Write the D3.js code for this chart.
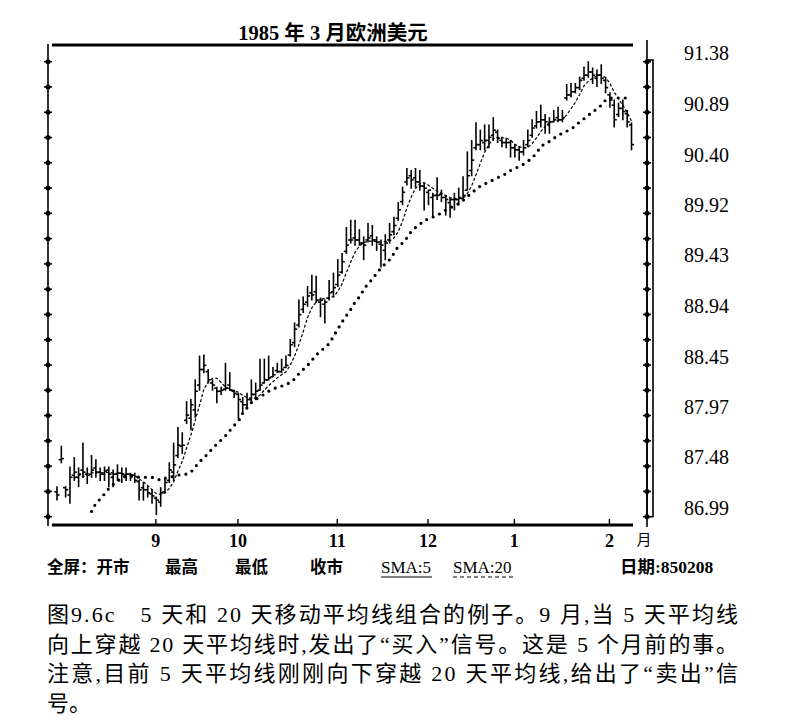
<!DOCTYPE html>
<html>
<head>
<meta charset="utf-8">
<script src="https://cdn.jsdelivr.net/npm/d3@7"></script>
<style>
  body { margin: 0; background: #fff; }
  svg { display: block; background: #fff; }
</style>
</head>
<body>
<svg width="785" height="726"></svg>
<script>
// daily bars, Aug 1984 - 8 Feb 1985
const opens = [
  87.23, 87.54, 87.27, 87.20, 87.39, 87.37, 87.44, 87.40, 87.40, 87.46,
  87.42, 87.40, 87.44, 87.37, 87.40, 87.41, 87.39, 87.40, 87.39, 87.33,
  87.27, 87.25, 87.21, 87.17, 87.13, 87.23, 87.34, 87.42, 87.58, 87.67,
  87.92, 87.94, 88.02, 88.26, 88.41, 88.39, 88.28, 88.23, 88.20, 88.22,
  88.26, 88.20, 88.17, 88.10, 88.07, 88.12, 88.17, 88.21, 88.28, 88.31,
  88.34, 88.40, 88.39, 88.43, 88.55, 88.67, 88.84, 88.99, 89.06, 89.15,
  89.16, 89.06, 89.04, 89.10, 89.16, 89.23, 89.35, 89.55, 89.66, 89.68,
  89.66, 89.63, 89.66, 89.70, 89.66, 89.62, 89.56, 89.66, 89.74, 89.87,
  90.03, 90.22, 90.28, 90.26, 90.22, 90.18, 90.12, 90.07, 90.09, 90.10,
  90.07, 90.02, 90.05, 90.05, 90.06, 90.14, 90.33, 90.55, 90.58, 90.60,
  90.62, 90.67, 90.70, 90.62, 90.60, 90.60, 90.55, 90.53, 90.51, 90.58,
  90.67, 90.76, 90.80, 90.82, 90.77, 90.80, 90.84, 90.82, 91.03, 91.06,
  91.09, 91.13, 91.22, 91.25, 91.28, 91.22, 91.25, 91.20, 91.06, 90.96,
  90.87, 90.93, 90.88, 90.77
];
const highs = [
  87.28, 87.67, 87.28, 87.47, 87.56, 87.46, 87.70, 87.46, 87.58, 87.54,
  87.46, 87.47, 87.47, 87.44, 87.49, 87.46, 87.46, 87.41, 87.41, 87.34,
  87.32, 87.28, 87.25, 87.18, 87.27, 87.37, 87.51, 87.70, 87.85, 87.80,
  88.10, 88.12, 88.31, 88.54, 88.55, 88.41, 88.31, 88.24, 88.24, 88.47,
  88.38, 88.21, 88.18, 88.14, 88.18, 88.31, 88.28, 88.51, 88.51, 88.54,
  88.43, 88.47, 88.51, 88.54, 88.70, 88.86, 89.08, 89.11, 89.21, 89.32,
  89.31, 89.10, 89.08, 89.27, 89.34, 89.47, 89.53, 89.78, 89.85, 89.85,
  89.76, 89.69, 89.82, 89.80, 89.69, 89.66, 89.71, 89.82, 89.88, 90.02,
  90.17, 90.35, 90.33, 90.35, 90.33, 90.21, 90.14, 90.11, 90.26, 90.14,
  90.09, 90.06, 90.11, 90.16, 90.27, 90.51, 90.62, 90.79, 90.72, 90.77,
  90.77, 90.84, 90.72, 90.65, 90.64, 90.62, 90.58, 90.56, 90.62, 90.72,
  90.82, 90.90, 90.96, 90.87, 90.84, 90.91, 90.94, 90.91, 91.16, 91.17,
  91.17, 91.23, 91.33, 91.38, 91.32, 91.30, 91.35, 91.23, 91.08, 91.01,
  90.98, 91.01, 90.91, 90.79
];
const lows = [
  87.15, 87.51, 87.18, 87.12, 87.34, 87.28, 87.37, 87.31, 87.37, 87.37,
  87.34, 87.34, 87.28, 87.28, 87.34, 87.32, 87.34, 87.34, 87.32, 87.15,
  87.15, 87.18, 87.12, 87.01, 87.09, 87.22, 87.32, 87.34, 87.56, 87.60,
  87.89, 87.83, 87.95, 88.21, 88.38, 88.28, 88.21, 88.09, 88.17, 88.21,
  88.21, 88.14, 87.94, 88.00, 88.05, 88.09, 88.12, 88.21, 88.28, 88.31,
  88.34, 88.38, 88.38, 88.43, 88.54, 88.63, 88.82, 88.96, 89.02, 89.08,
  89.06, 88.92, 88.86, 89.08, 89.11, 89.21, 89.34, 89.53, 89.63, 89.61,
  89.61, 89.47, 89.64, 89.61, 89.56, 89.40, 89.47, 89.63, 89.71, 89.85,
  90.00, 90.19, 90.16, 90.17, 90.14, 89.95, 90.00, 89.88, 90.05, 90.03,
  89.90, 89.88, 89.95, 90.00, 90.06, 90.14, 90.28, 90.53, 90.53, 90.53,
  90.55, 90.62, 90.60, 90.56, 90.55, 90.46, 90.46, 90.43, 90.48, 90.56,
  90.65, 90.74, 90.75, 90.69, 90.69, 90.80, 90.80, 90.80, 91.01, 91.04,
  91.08, 91.11, 91.20, 91.23, 91.17, 91.14, 91.17, 91.08, 90.94, 90.75,
  90.85, 90.82, 90.75, 90.53
];
const closes = [
  87.20, 87.55, 87.25, 87.37, 87.42, 87.40, 87.42, 87.39, 87.44, 87.42,
  87.40, 87.43, 87.40, 87.40, 87.41, 87.40, 87.40, 87.39, 87.34, 87.25,
  87.25, 87.22, 87.19, 87.15, 87.22, 87.32, 87.44, 87.49, 87.68, 87.68,
  87.97, 88.07, 88.20, 88.41, 88.45, 88.31, 88.26, 88.20, 88.21, 88.23,
  88.21, 88.18, 88.12, 88.07, 88.12, 88.17, 88.20, 88.26, 88.31, 88.33,
  88.36, 88.39, 88.41, 88.45, 88.65, 88.80, 88.94, 89.04, 89.12, 89.13,
  89.08, 89.08, 89.06, 89.15, 89.20, 89.32, 89.45, 89.61, 89.66, 89.66,
  89.63, 89.61, 89.68, 89.66, 89.64, 89.61, 89.63, 89.71, 89.80, 89.95,
  90.12, 90.26, 90.24, 90.22, 90.18, 90.16, 90.14, 90.09, 90.09, 90.07,
  90.05, 90.05, 90.05, 90.07, 90.09, 90.28, 90.43, 90.58, 90.62, 90.62,
  90.65, 90.72, 90.64, 90.60, 90.60, 90.55, 90.53, 90.51, 90.55, 90.62,
  90.74, 90.80, 90.82, 90.80, 90.80, 90.82, 90.82, 90.84, 91.06, 91.09,
  91.13, 91.20, 91.25, 91.28, 91.25, 91.25, 91.22, 91.13, 91.01, 90.82,
  90.93, 90.90, 90.80, 90.58
];

// 20-day average as printed (starts on day 8)
const sma20Start = 8;
const sma20 = [
  87.04, 87.12, 87.16, 87.21, 87.26, 87.30, 87.33, 87.37, 87.38, 87.38,
  87.38, 87.37, 87.37, 87.37, 87.37, 87.36, 87.34, 87.36, 87.37, 87.38,
  87.39, 87.40, 87.40, 87.42, 87.47, 87.52, 87.56, 87.60, 87.65, 87.69,
  87.73, 87.77, 87.82, 87.87, 87.91, 87.99, 88.04, 88.09, 88.12, 88.15,
  88.17, 88.20, 88.22, 88.24, 88.25, 88.27, 88.28, 88.32, 88.37, 88.41,
  88.45, 88.50, 88.55, 88.59, 88.62, 88.66, 88.73, 88.80, 88.87, 88.93,
  88.99, 89.06, 89.11, 89.18, 89.24, 89.28, 89.34, 89.39, 89.43, 89.47,
  89.53, 89.60, 89.63, 89.68, 89.74, 89.78, 89.81, 89.85, 89.86, 89.88,
  89.90, 89.92, 89.95, 89.97, 89.99, 90.01, 90.04, 90.08, 90.11, 90.15,
  90.18, 90.20, 90.22, 90.24, 90.26, 90.28, 90.30, 90.33, 90.35, 90.37,
  90.39, 90.42, 90.45, 90.50, 90.56, 90.59, 90.61, 90.64, 90.67, 90.69,
  90.71, 90.73, 90.76, 90.80, 90.83, 90.86, 90.90, 90.92, 90.96, 91.01,
  91.03, 91.03, 91.03, 91.03, 91.03, 91.03
];

const monthLabels = ['9', '10', '11', '12', '1', '2'];
const monthStarts = [23, 42, 65, 86, 106, 128];   // first trading day of each month

const priceLabels = ['86.99', '87.48', '87.97', '88.45', '88.94', '89.43', '89.92', '90.40', '90.89', '91.38'];

const legendItems = ['全屏：开市', '最高', '最低', '收市'];
const captionLines = [
  '图9.6c　5 天和 20 天移动平均线组合的例子。9 月,当 5 天平均线',
  '向上穿越 20 天平均线时,发出了“买入”信号。这是 5 个月前的事。',
  '注意,目前 5 天平均线刚刚向下穿越 20 天平均线,给出了“卖出”信',
  '号。'
];

const serif = '"Liberation Serif", "Noto Sans CJK SC", serif';

const svg = d3.select('svg');

const x = d3.scaleLinear()
    .domain([0, closes.length - 1])
    .range([57, 631.5]);

const y = d3.scaleLinear()
    .domain([+priceLabels[0], +priceLabels[priceLabels.length - 1]])
    .range([516.7, 61.7]);

// 5-day average of the closes
const sma5 = closes.map((c, i) => i < 4 ? null : d3.mean(closes.slice(i - 4, i + 1)));

// title
svg.append('text')
    .attr('x', 333)
    .attr('y', 40)
    .attr('text-anchor', 'middle')
    .attr('font-family', serif)
    .attr('font-weight', 'bold')
    .attr('font-size', 20.5)
    .text('1985 年 3 月欧洲美元');

// frame lines
svg.append('line')
    .attr('x1', 52).attr('x2', 633)
    .attr('y1', 45).attr('y2', 45)
    .attr('stroke', '#000').attr('stroke-width', 3);

svg.append('line')
    .attr('x1', 48).attr('x2', 48)
    .attr('y1', 44).attr('y2', 526)
    .attr('stroke', '#000').attr('stroke-width', 1.6);

svg.append('line')
    .attr('x1', 647).attr('x2', 647)
    .attr('y1', 40).attr('y2', 527)
    .attr('stroke', '#000').attr('stroke-width', 1.6);

svg.append('rect')
    .attr('x', 647).attr('y', 60)
    .attr('width', 6).attr('height', y.range()[0] - 60)
    .attr('fill', 'none')
    .attr('stroke', '#000').attr('stroke-width', 1.6);

// dotted ticks on both price axes (every half label step)
const tickVals = d3.range(19).map(k => y.domain()[0] + k * (y.domain()[1] - y.domain()[0]) / 18);

[48, 647].forEach(ax => {
  const tg = svg.append('g');
  tg.selectAll('line')
    .data(tickVals)
    .join('line')
      .attr('x1', ax - 4).attr('x2', ax + 4)
      .attr('y1', d => y(d)).attr('y2', d => y(d))
      .attr('stroke', '#000').attr('stroke-width', 1.5);
  tg.selectAll('circle')
    .data(tickVals)
    .join('circle')
      .attr('cx', ax)
      .attr('cy', d => y(d))
      .attr('r', 2.5)
      .attr('fill', '#000');
});

// right price labels
const yAxis = d3.axisRight(y)
    .tickValues(priceLabels.map(Number))
    .tickFormat((d, i) => priceLabels[i])
    .tickSize(0)
    .tickPadding(37);

const yg = svg.append('g')
    .attr('transform', 'translate(647,0)')
    .call(yAxis);
yg.select('.domain').remove();
yg.selectAll('text')
    .attr('dy', '-0.1em')
    .attr('font-family', serif)
    .attr('font-size', 20)
    .attr('fill', '#000');

// month axis
svg.append('line')
    .attr('x1', 52).attr('x2', 633)
    .attr('y1', 525).attr('y2', 525)
    .attr('stroke', '#000').attr('stroke-width', 3);

const xAxis = d3.axisBottom(x)
    .tickValues(monthStarts)
    .tickFormat((d, i) => monthLabels[i])
    .tickSize(-6)
    .tickSizeOuter(0)
    .tickPadding(9);

const xg = svg.append('g')
    .attr('transform', 'translate(-1,525)')
    .call(xAxis);
xg.select('.domain').remove();
xg.selectAll('line').attr('stroke', '#000').attr('stroke-width', 1.4);
xg.selectAll('text')
    .attr('font-family', serif)
    .attr('font-weight', 'bold')
    .attr('font-size', 18)
    .attr('fill', '#000');

svg.append('text')
    .attr('x', 644).attr('y', 545)
    .attr('text-anchor', 'middle')
    .attr('font-family', '"Noto Sans CJK SC", sans-serif')
    .attr('font-size', 15)
    .text('月');

// OHLC bars
const bars = svg.append('g')
    .attr('stroke', '#000')
    .attr('stroke-width', 1.6);

bars.selectAll('line.hl')
  .data(closes)
  .join('line')
    .attr('class', 'hl')
    .attr('x1', (d, i) => x(i)).attr('x2', (d, i) => x(i))
    .attr('y1', (d, i) => y(highs[i]) - 0.5)
    .attr('y2', (d, i) => y(lows[i]) + 0.5);

bars.selectAll('line.op')
  .data(opens)
  .join('line')
    .attr('class', 'op')
    .attr('x1', (d, i) => x(i) - 2.6).attr('x2', (d, i) => x(i))
    .attr('y1', d => y(d)).attr('y2', d => y(d));

bars.selectAll('line.cl')
  .data(closes)
  .join('line')
    .attr('class', 'cl')
    .attr('x1', (d, i) => x(i)).attr('x2', (d, i) => x(i) + 2.6)
    .attr('y1', d => y(d)).attr('y2', d => y(d));

// moving averages
const line = d3.line()
    .defined(d => d[1] != null)
    .x(d => x(d[0]))
    .y(d => y(d[1]));

svg.append('path')
    .datum(sma5.map((v, i) => [i, v]))
    .attr('d', line)
    .attr('fill', 'none')
    .attr('stroke', '#000')
    .attr('stroke-width', 1.2)
    .attr('stroke-dasharray', '3,2');

svg.append('path')
    .datum(sma20.map((v, i) => [i + sma20Start, v]))
    .attr('d', line)
    .attr('fill', 'none')
    .attr('stroke', '#000')
    .attr('stroke-width', 3.2)
    .attr('stroke-linecap', 'round')
    .attr('stroke-dasharray', '0,7');

// legend row
const legendX = [47, 165, 235, 310];
const lg = svg.append('g')
    .attr('font-family', '"Noto Sans CJK SC", sans-serif')
    .attr('font-weight', 'bold')
    .attr('font-size', 16.5);

lg.selectAll('text')
  .data(legendItems)
  .join('text')
    .attr('x', (d, i) => legendX[i])
    .attr('y', 573)
    .text(d => d);

svg.append('text')
    .attr('x', 381).attr('y', 573)
    .attr('font-family', serif)
    .attr('font-size', 17)
    .text('SMA:5');
svg.append('line')
    .attr('x1', 381).attr('x2', 432)
    .attr('y1', 577).attr('y2', 577)
    .attr('stroke', '#000').attr('stroke-width', 1);

svg.append('text')
    .attr('x', 453).attr('y', 573)
    .attr('font-family', serif)
    .attr('font-size', 17)
    .text('SMA:20');
svg.append('line')
    .attr('x1', 453).attr('x2', 515)
    .attr('y1', 577).attr('y2', 577)
    .attr('stroke', '#000').attr('stroke-width', 1)
    .attr('stroke-dasharray', '4,3');

svg.append('text')
    .attr('x', 620).attr('y', 573)
    .attr('font-family', serif)
    .attr('font-weight', 'bold')
    .attr('font-size', 17.5)
    .text('日期:850208');

// caption
const cap = svg.append('g')
    .attr('font-family', serif)
    .attr('font-size', 22);

cap.selectAll('text')
  .data(captionLines)
  .join('text')
    .attr('x', 47)
    .attr('y', (d, i) => 622 + i * 29.5)
    .attr('textLength', (d, i) => i < 3 ? 691 : null)
    .attr('lengthAdjust', 'spacing')
    .text(d => d);
</script>
</body>
</html>
